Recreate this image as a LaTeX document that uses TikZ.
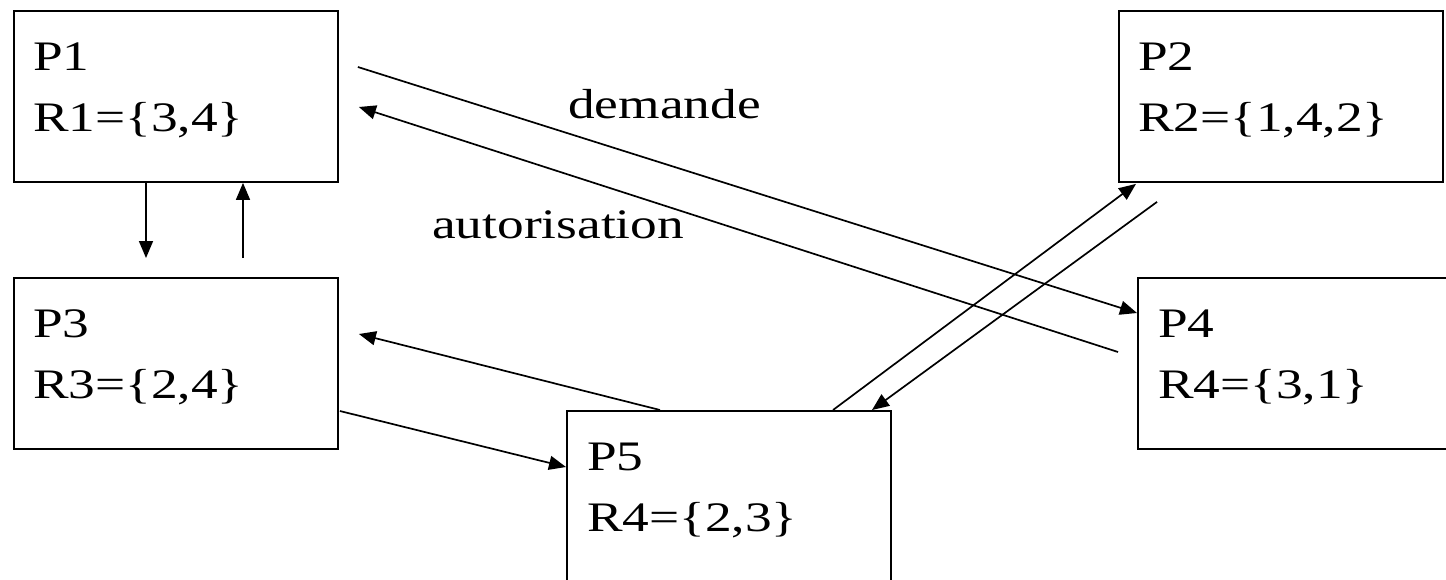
\documentclass[tikz,border=0pt]{standalone}
\usepackage{fontspec}
\setmainfont{Liberation Serif}[FakeStretch=1.27]
\usetikzlibrary{arrows.meta,calc}
\begin{document}
\begin{tikzpicture}[x=1pt,y=-1pt,
  procbox/.style={draw=black,line width=1.9pt,fill=none,inner sep=0pt,anchor=north west,minimum width=324pt,minimum height=171pt},
  txt/.style={anchor=base west,inner sep=0pt,font=\fontsize{42}{61}\selectfont},
  arr/.style={line width=1.7pt,-{Triangle[length=17pt,width=14pt]}},
  plain/.style={line width=1.7pt}]
\fill[white] (0,0) rectangle (1446,579);
\clip (0,0) rectangle (1446,579);
\useasboundingbox (0,0) rectangle (1446,579);
% boxes
\node[procbox] (p1) at (13,10) {};
\node[procbox] (p2) at (1118,10) {};
\node[procbox] (p3) at (13,277) {};
\node[procbox] (p4) at (1137,277) {};
\node[procbox] (p5) at (566,410) {};
% texts
\node[txt] (p1a) at (33,70) {P1};
\node[txt] (p1b) at (33,131) {R1=\{3,4\}};
\node[txt] (p2a) at (1138,70) {P2};
\node[txt] (p2b) at (1138,131) {R2=\{1,4,2\}};
\node[txt] (p3a) at (33,337) {P3};
\node[txt] (p3b) at (33,398) {R3=\{2,4\}};
\node[txt] (p4a) at (1158,337) {P4};
\node[txt] (p4b) at (1158,398) {R4=\{3,1\}};
\node[txt] (p5a) at (587,470) {P5};
\node[txt] (p5b) at (587,531) {R4=\{2,3\}};
\node[txt] (lab1) at (568,118) {demande};
\node[txt] (lab2) at (432,238) {autorisation};
% free ends
\coordinate (c13) at ($(p3.north west)+(133,-19)$);
\coordinate (c31) at ($(p3.north west)+(230,-19)$);
\coordinate (cdem) at ($(p1.north east)+(19,57)$);
\coordinate (caut) at ($(p4.north west)+(-19,75)$);
\coordinate (cp2) at ($(p2.south west)+(39,19)$);
% connectors
\draw[arr] ($(p1.south west)+(133,0)$) -- (c13);
\draw[arr] (c31) -- ($(p1.south west)+(230,0)$);
\draw[arr] (cdem) -- ($(p4.north west)+(0,36)$);
\draw[arr] (caut) -- ($(p1.north east)+(20,97)$);
\draw[arr] ($(p5.north west)+(94,0)$) -- ($(p3.north east)+(20,57)$);
\draw[arr] ($(p3.north east)+(1,134)$) -- ($(p5.north west)+(0,57)$);
\draw[arr] ($(p5.north west)+(267,0)$) -- ($(p2.south west)+(18,1)$);
\draw[arr] (cp2) -- ($(p5.north west)+(306,0)$);
\end{tikzpicture}
\end{document}
